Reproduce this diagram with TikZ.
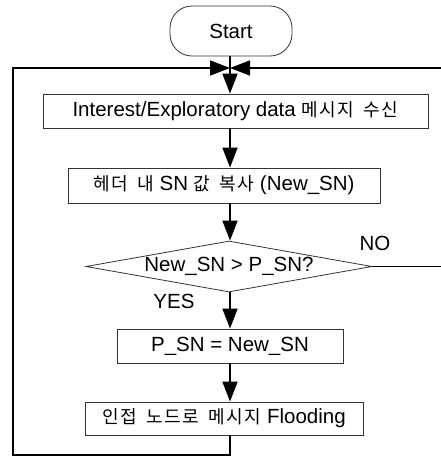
\documentclass[tikz,border=0pt]{standalone}
\usepackage{fontspec}
\setmainfont{Liberation Sans}
\newfontfamily\kr[Scale=0.88,LetterSpace=9,WordSpace=1.6]{Noto Sans CJK KR}
\usetikzlibrary{arrows.meta,shapes.geometric}
\begin{document}
\begin{tikzpicture}[x=1pt,y=-1pt,
  box/.style={draw=black!80,line width=0.8pt,rectangle,inner sep=0pt,font=\fontsize{20.5}{22}\selectfont},
  flow/.style={line width=1.7pt,-{Triangle[length=20pt,width=15pt]}},
  lbl/.style={font=\fontsize{20.5}{22}\selectfont,inner sep=0pt}]
\useasboundingbox (0,0) rectangle (441,459);
\clip (0,0) rectangle (441,459);
\coordinate (spine) at (230,0);
\coordinate (merge) at (230,68);
\coordinate (bl) at (13,455);
\coordinate (tr) at (446,68);
\node[box,rounded corners=22pt,minimum width=122pt,minimum height=50pt] (start) at (231,31) {Start};
\node[box,minimum width=385pt,minimum height=34pt] (b1) at (235.5,111) {Interest/Exploratory data \kr 메시지 수신};
\node[box,minimum width=312pt,minimum height=35pt] (b2) at (224,185.5) {{\kr 헤더 내} SN {\kr 값 복사} (New\_SN)};
\node[box,diamond,aspect=5.6,minimum width=286pt,minimum height=51pt] (dia) at (229,266.5) {New\_SN > P\_SN?};
\node[box,minimum width=226pt,minimum height=34pt] (b3) at (230,346) {P\_SN = New\_SN};
\node[box,minimum width=278pt,minimum height=33pt] (b4) at (224,418.5) {{\kr 인접 노드로 메시지} Flooding};
\node[lbl] (no) at (375,243) {NO};
\node[lbl] (yes) at (174,301) {YES};
\draw[flow] (start.south -| spine) -- (b1.north -| spine);
\draw[flow] (b1.south -| spine) -- (b2.north -| spine);
\draw[flow] (b2.south -| spine) -- (dia.north -| spine);
\draw[flow] (dia.south -| spine) -- (b3.north -| spine);
\draw[flow] (b3.south -| spine) -- (b4.north -| spine);
\draw[flow] (b4.south -| spine) |- (bl) |- (merge);
\draw[flow] (dia.east) -- (dia.east -| tr) |- (merge);
\end{tikzpicture}
\end{document}
